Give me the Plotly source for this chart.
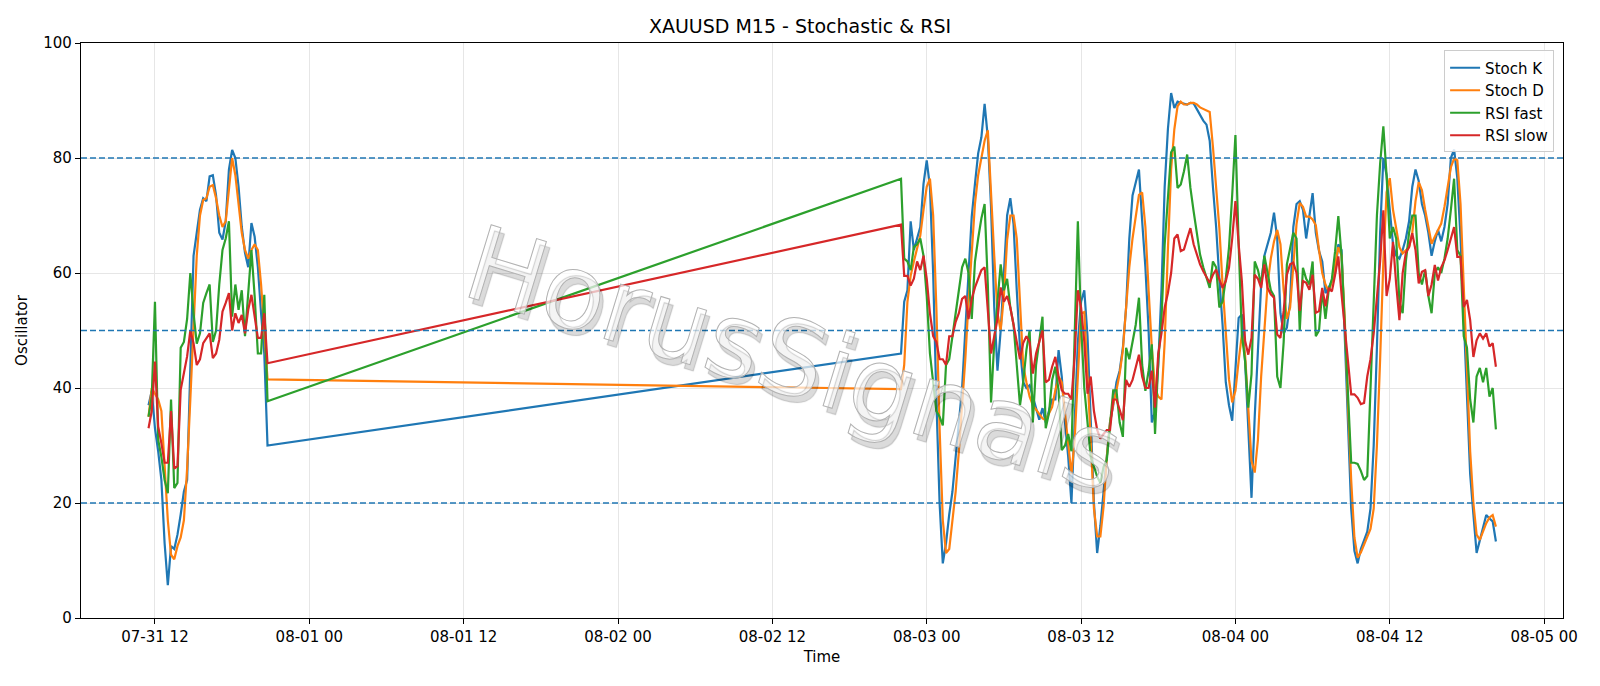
import pandas as pd
import plotly.graph_objects as go

# ---------------- data ----------------
session1_start = "2025-07-31 11:30"
session2_start = "2025-08-02 22:00"
bar_freq = "15min"

k_s1 = [37, 39.5, 33, 29, 24, 13, 5.7, 12.5, 12, 14.5, 18, 22, 24, 42, 63, 67, 71, 73, 72.5, 76.8,
        77, 73.5, 67, 65.8, 69, 78, 81.4, 80, 75, 68, 63.5, 61, 68.7, 66.3, 61, 53, 46, 30]
d_s1 = [35, 40, 39, 38, 36, 26, 17, 11, 10.2, 12.5, 14, 17, 26, 38, 50, 63, 70, 72.7, 73, 75,
        75.3, 73, 70, 68, 69, 75, 80, 77, 72, 67, 64, 62.5, 64, 65, 64, 58, 50, 41.5]
fast_s1 = [35, 38.5, 55, 31, 28, 24, 21.7, 38, 22.6, 23.5, 47, 48, 52, 60, 53, 47.7, 49.5, 54.8, 56.5, 58,
           48, 50, 58, 64, 66, 69, 52.4, 58, 53.6, 57, 49, 56, 64, 56, 46, 46, 56.2, 37.7]
slow_s1 = [33, 36, 44.6, 33.3, 30.4, 27, 27, 36, 26, 26.4, 39.7, 42.6, 45.5, 50, 47.8, 44, 45, 47.8, 48.7, 49.5,
           45.2, 46, 48.4, 53.3, 54.8, 56.5, 50, 53, 51.3, 52.7, 49.5, 53.6, 56.2, 52, 48.7, 48.7, 53, 44.3]

k_s2 = [46, 55, 57, 69, 64, 66, 68, 75.5, 79.6, 75,
        60, 38, 20, 9.5, 13, 18, 22, 28, 33.9, 40,
        50, 60, 69.8, 75.5, 80.8, 83.6, 89.4, 83.6, 71.5, 54,
        43, 50, 59, 70, 73, 68.5, 57, 47, 41, 40,
        40.5, 38.5, 36.2, 34.5, 36.5, 34, 36, 38, 38, 46.6,
        42, 34, 28, 20, 34, 48, 55, 57, 49, 34,
        20, 11.3, 16, 22, 28, 34, 37, 41, 43, 47,
        54, 66, 73.5, 76, 78, 69, 61, 50, 34, 36,
        44, 57, 75, 85, 91.3, 88.7, 89.8, 89.6, 89.5, 89.3,
        89.6, 89.5, 88.5, 87.5, 86.5, 85.8, 83, 75, 68, 59,
        51, 41, 37, 34.3, 44, 52.2, 52.8, 44.7, 33, 20.9,
        35, 48, 58, 63, 65, 67, 70.5, 66, 53, 49.5,
        50.5, 55, 68, 72, 72.5, 71, 66, 70, 73.9, 67,
        63.8, 62, 56.5, 57.5, 58.6, 60, 65, 64, 50, 33,
        19, 11.7, 9.5, 12, 13.5, 15, 19, 30, 47, 67,
        80, 77, 71, 65, 63, 62.5, 64, 66, 69, 75,
        78, 76, 72, 70, 67, 63, 65.5, 67.5, 65.5, 68,
        72, 80, 81.5, 76.5, 66, 53, 39, 25, 18, 11.3,
        13.5, 16, 17.9, 17.3, 16.8, 13.3]
d_s2 = [39.8, 44, 55, 59.5, 62, 64.5, 66.5, 71, 75, 76.4,
        70, 54, 33, 17, 11.3, 12, 16.5, 22, 29, 37,
        45, 55, 64.5, 72, 77, 80, 83, 84.8, 75, 63,
        53, 50, 56, 65.7, 70, 70, 66, 54, 44, 41,
        38.5, 37, 36.2, 35.6, 34.7, 34.4, 35.6, 36.7, 39.6, 42,
        41, 36, 31, 25, 31, 42, 53, 53.2, 43, 31,
        19, 14.2, 14.2, 19.4, 28, 34, 37.3, 39.6, 42.5, 46.6,
        54, 61, 66, 70, 73.6, 74, 68, 57, 47, 40,
        38.5, 38, 48, 64, 78, 85, 89, 89.8, 89.3, 89.3,
        89.6, 89.6, 89.3, 88.8, 88.5, 88.3, 88, 82, 75, 67.8,
        58, 50, 41.5, 37.5, 39.5, 44.7, 49.3, 45.8, 36, 27.3,
        25.3, 31, 42, 51, 58, 62.5, 65.5, 67.5, 65, 57,
        52, 54, 62, 68.5, 72.2, 71.5, 69.8, 69.8, 69.3, 68.3,
        64, 60, 58, 56.8, 58.5, 61.5, 64.5, 63, 52, 37,
        24, 14, 10.5, 11.4, 12.8, 14, 15.5, 19, 30, 45,
        62, 74, 76.5, 71, 67.5, 64.5, 63.4, 64, 64.5, 67,
        72.5, 75.8, 74.4, 71, 68, 65.1, 66.3, 67.4, 68.6, 71.5,
        75, 78.4, 79.9, 79.6, 72, 58, 42, 29, 20, 14.5,
        13.6, 15, 16.5, 17.5, 17.9, 15.9]
fast_s2 = [76.4, 62.5, 62, 60.5, 64.5, 65, 66, 63, 56, 46,
           41, 36, 35, 33.5, 44, 45, 49, 53, 57, 61,
           62.5, 60, 52, 62, 66, 69.5, 72, 58, 37.5, 48,
           55, 61.5, 57, 59, 54, 51, 44, 37, 41, 46.6,
           50, 34, 44, 48, 52.4, 33, 35.6, 41.4, 43.7, 39.6,
           29.2, 30, 32, 29, 49, 69, 51, 40, 34, 28,
           26.3, 24.6, 23.5, 26.3, 27.5, 34, 39.6, 39.6, 34, 31.5,
           47, 45, 48, 51, 55.7, 44, 39.5, 43, 47.6, 32,
           44.7, 52, 65, 74, 81, 82, 74.8, 75.4, 77.7, 80.6,
           74.8, 70.7, 66.7, 63.2, 61, 59.2, 57.4, 62, 61, 54,
           55, 59, 64.4, 73.6, 84, 65, 49.3, 44.7, 36.6, 42.4,
           62, 60.5, 58, 63, 60, 57, 56, 42, 40, 48,
           61.5, 64.5, 67, 66, 50, 60.9, 59, 58, 62, 49,
           50, 57, 52, 57, 59, 63.8, 69.9, 63, 50.5, 38,
           27, 27, 26.8, 25.6, 24, 24.7, 40, 52, 70, 79,
           85.5, 77, 66, 68, 66, 55, 53, 62, 67, 70,
           70, 60, 58, 60.5, 56, 53, 60, 61, 60, 62.5,
           66, 71, 76.4, 64, 63, 49, 47, 38, 34, 42,
           43.5, 41, 43.5, 38.5, 40, 32.8]
slow_s2 = [68.4, 59.5, 59.5, 57.8, 59, 62, 60.5, 63, 59, 53,
           49, 48, 45, 45, 44, 49, 49, 51.5, 53, 55.5,
           56, 52, 55.5, 57.5, 59, 60.5, 61, 53.5, 46, 49,
           52, 57.5, 55, 56, 54, 51, 48, 45, 47.8, 49,
           48, 42.5, 46, 47.8, 50, 41, 41.4, 43.7, 45.4, 42,
           39.6, 39, 39, 38, 45.4, 57, 54, 48, 39, 42,
           36, 32.7, 31.2, 32, 32.7, 32.7, 38, 38, 36, 34.4,
           41.4, 40.2, 41.4, 43.7, 45.8, 42, 40, 40, 43, 36.6,
           46, 49.5, 54, 56.5, 60, 66, 66.7, 63.8, 64.1, 66,
           67.8, 65, 63.2, 61.5, 60.3, 59.2, 58.3, 59.7, 60.6, 58.9,
           57.4, 58.6, 60.9, 66, 72.5, 65, 58.6, 48.2, 45.8, 48.7,
           59.7, 59, 57.4, 61.5, 57.4, 56.3, 55.7, 49.3, 48.7, 53.4,
           59.7, 61.5, 61.8, 60, 53.4, 58.6, 58.3, 57.1, 59.7, 53.1,
           53.4, 57.4, 54.2, 57.4, 56.8, 59.7, 62.9, 56.3, 50.5, 43.5,
           38.9, 38.9, 38.3, 37.2, 37.4, 42, 45, 49.5, 56, 62,
           70.9, 56, 59, 65.4, 58, 51.8, 60, 63.5, 64.5, 66.9,
           64, 58.2, 60.2, 60.5, 56, 58, 61.4, 58.7, 61, 62.2,
           64, 66, 68, 62.8, 62.8, 54.1, 55.3, 51.8, 45.4, 48.3,
           49.5, 48.6, 49.5, 47.2, 47.8, 43.7]

levels = [20, 50, 80]
series_names = ["Stoch K", "Stoch D", "RSI fast", "RSI slow"]
series_colors = ["#1f77b4", "#ff7f0e", "#2ca02c", "#d62728"]
watermark = "HorusSignals"

# ---------------- build ----------------
t1 = pd.date_range(session1_start, periods=len(k_s1), freq=bar_freq)
t2 = pd.date_range(session2_start, periods=len(k_s2), freq=bar_freq)
times = list(t1) + list(t2)

series_values = [k_s1 + k_s2, d_s1 + d_s2, fast_s1 + fast_s2, slow_s1 + slow_s2]

fig = go.Figure()
for name, color, vals in zip(series_names, series_colors, series_values):
    fig.add_trace(go.Scatter(x=times, y=vals, mode="lines", name=name,
                             line=dict(color=color, width=2.2)))

for lv in levels:
    fig.add_hline(y=lv, line=dict(color="#1f77b4", width=1.4, dash="6px,3px"), layer="above")

axis_common = dict(
    showline=True, mirror=True, linecolor="#000000", linewidth=1.2,
    ticks="outside", ticklen=5, tickwidth=1.2, tickcolor="#000000",
    showgrid=True, gridcolor="#e6e6e6", gridwidth=1,
    zeroline=False, tickfont=dict(size=15, color="#000000"), automargin=False,
)

fig.update_xaxes(
    type="date", range=["2025-07-31 06:15", "2025-08-05 01:28"],
    tick0="2025-07-31 12:00", dtick=12 * 3600 * 1000, tickformat="%m-%d %H",
    title=dict(text="Time", font=dict(size=15, color="#000000"), standoff=6),
    **axis_common,
)
fig.update_yaxes(
    range=[0, 100], tick0=0, dtick=20,
    title=dict(text="Oscillator", font=dict(size=15, color="#000000"), standoff=12),
    **axis_common,
)

fig.add_annotation(
    text=watermark, xref="paper", yref="paper", x=0.481, y=0.45,
    showarrow=False, textangle=17,
    font=dict(family="DejaVu Sans", size=104, color="rgba(255,255,255,0.7)",
              shadow="5px 5px 1px rgba(0,0,0,0.2)"),
)

fig.update_layout(
    width=1600, height=686,
    margin=dict(l=81, r=37, t=43, b=68),
    paper_bgcolor="white", plot_bgcolor="white",
    font=dict(family="DejaVu Sans", color="#000000"),
    title=dict(text="XAUUSD M15 - Stochastic & RSI", x=0.5, xanchor="center",
               y=1 - 26 / 686, yanchor="middle", yref="container",
               font=dict(size=19, color="#000000")),
    legend=dict(x=0.994, y=0.987, xanchor="right", yanchor="top",
                bgcolor="rgba(255,255,255,0.85)", bordercolor="#cccccc", borderwidth=1,
                font=dict(size=15, color="#000000"), tracegroupgap=0, itemwidth=30),
    showlegend=True,
)

post_js = """
document.body.style.margin = '0';
var gd = document.getElementById('{plot_id}');
function styleWatermark() {
  gd.querySelectorAll('.annotation-text').forEach(function (t) {
    t.style.stroke = '#b2b2b2';
    t.style.strokeWidth = '1px';
  });
}
styleWatermark();
if (gd.on) { gd.on('plotly_afterplot', styleWatermark); }
"""

fig.write_html("out.html", post_script=post_js, config={"displayModeBar": False})
